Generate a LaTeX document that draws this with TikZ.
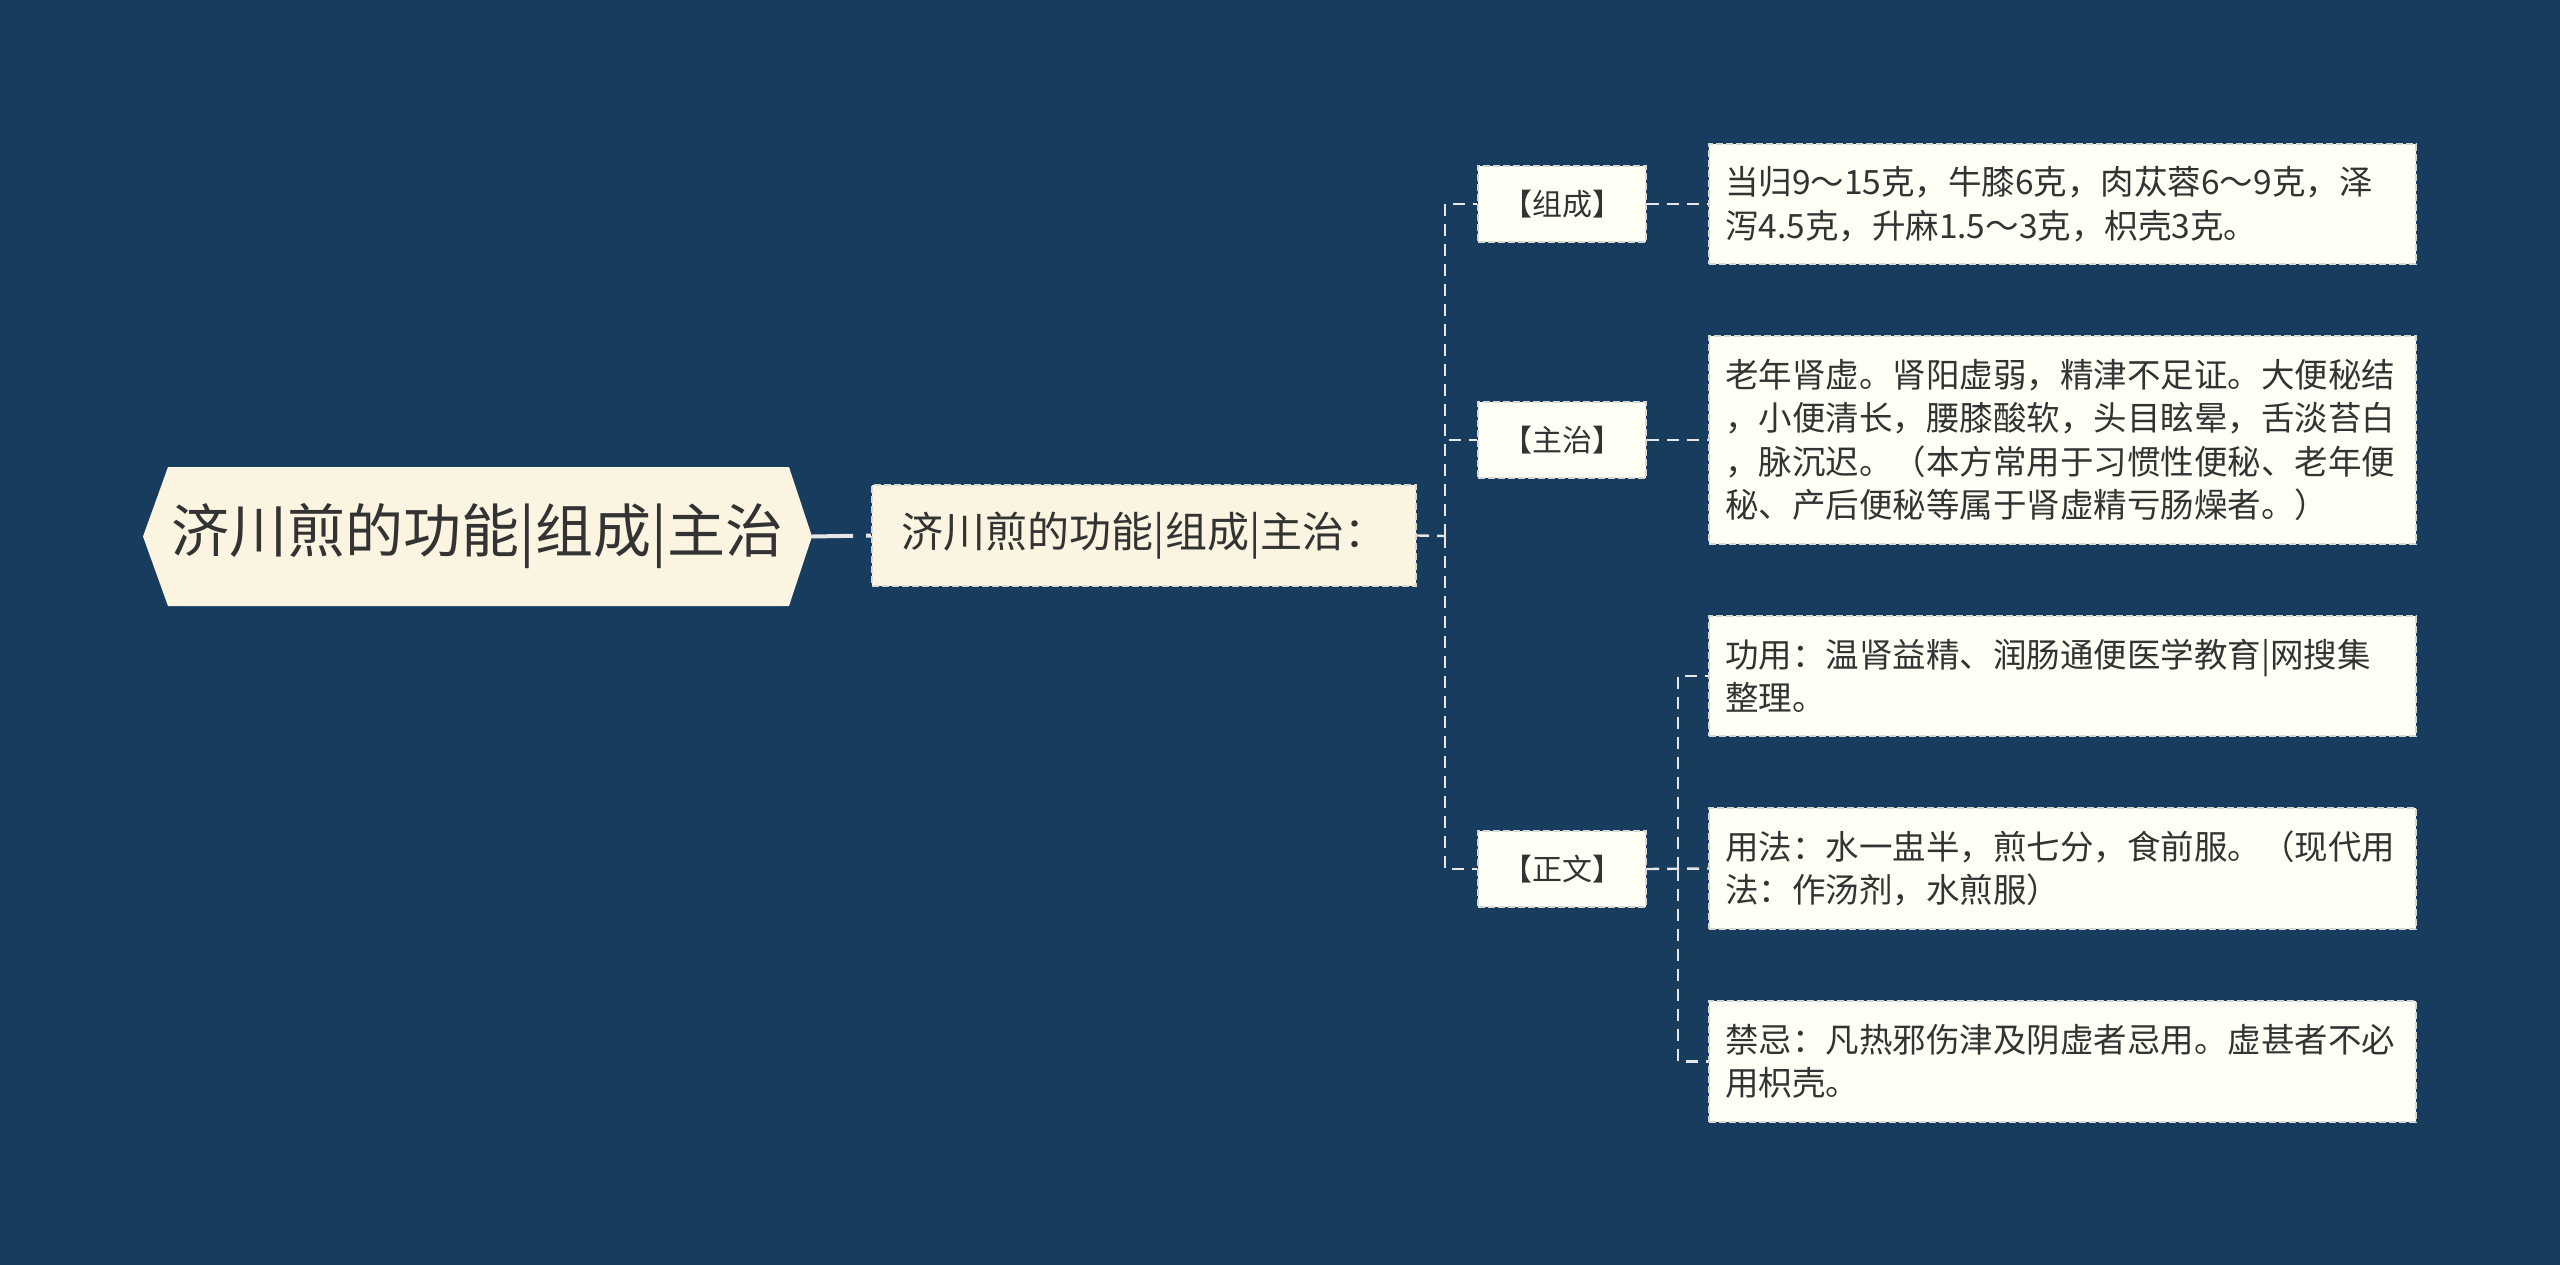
\documentclass[tikz,border=0pt]{standalone}
\usepackage{fontspec}
\setmainfont{Noto Sans CJK SC}
\definecolor{bg}{HTML}{173C5D}
\definecolor{cream}{HTML}{FAF4E0}
\definecolor{leaffill}{HTML}{FFFFF6}
\definecolor{txt}{HTML}{333333}
\definecolor{linec}{HTML}{E6E6E6}
\definecolor{boxline}{HTML}{D8D8D2}
\begin{document}
\begin{tikzpicture}[x=1pt,y=-1pt,
  conn/.style={draw=linec,line width=2.4pt,dash pattern=on 12pt off 8pt},
  boxbase/.style={draw=boxline,line width=2pt,dash pattern=on 7pt off 3pt,text=txt,inner sep=0pt},
  labelbox/.style={boxbase,fill=leaffill,minimum width=168pt,minimum height=76pt,font=\fontsize{30}{36}\selectfont},
  leafbox/.style={boxbase,fill=leaffill,anchor=west,minimum width=707pt,text width=675pt,inner xsep=16pt,align=left,font=\fontsize{33.5}{43.5}\selectfont}
]
\fill[bg] (0,0) rectangle (2560,1265);
\useasboundingbox (0,0) rectangle (2560,1265);

% root hexagon
\fill[cream] (143,536.5) -- (168,467) -- (789,467) -- (812,536.5) -- (789,606) -- (168,606) -- cycle;
\node[text=txt,font=\fontsize{58}{64}\selectfont,minimum width=669pt,minimum height=139pt,inner sep=0pt] (root) at (477.5,536.5) {济川煎的功能|组成|主治};

% sub node
\node[boxbase,fill=cream,minimum width=544pt,minimum height=101pt,font=\fontsize{42}{48}\selectfont] (sub) at (1144,535.5) {济川煎的功能|组成|主治：};

% labels
\node[labelbox] (zc) at (1562,204) {【组成】};
\node[labelbox] (zz) at (1562,440) {【主治】};
\node[labelbox] (zw) at (1562,869) {【正文】};

% leaves
\node[leafbox,minimum height=120pt] (l1) at (1708,204) {当归9～15克，牛膝6克，肉苁蓉6～9克，泽\\泻4.5克，升麻1.5～3克，枳壳3克。};
\node[leafbox,minimum height=208pt] (l2) at (1708,440) {老年肾虚。肾阳虚弱，精津不足证。大便秘结\\，小便清长，腰膝酸软，头目眩晕，舌淡苔白\\，脉沉迟。（本方常用于习惯性便秘、老年便\\秘、产后便秘等属于肾虚精亏肠燥者。）};
\node[leafbox,minimum height=120pt] (l3) at (1708,676) {功用：温肾益精、润肠通便医学教育|网搜集\\整理。};
\node[leafbox,minimum height=121pt] (l4) at (1708,868.5) {用法：水一盅半，煎七分，食前服。（现代用\\法：作汤剂，水煎服）};
\node[leafbox,minimum height=121pt] (l5) at (1708,1061.5) {禁忌：凡热邪伤津及阴虚者忌用。虚甚者不必\\用枳壳。};

% junctions
\coordinate (j1) at (1445,536);
\coordinate (j2) at (1678,869);

% connectors
\draw[draw=linec,line width=4pt,dash pattern=on 41pt off 13pt] (root.east) -- (sub.west);
\draw[conn] (sub.east) -- (j1);
\draw[conn] (j1) |- (zc.west);
\draw[conn] (j1) |- (zz.west);
\draw[conn] (j1) |- (zw.west);
\draw[conn] (zc.east) -- (l1.west);
\draw[conn] (zz.east) -- (l2.west);
\draw[conn] (zw.east) -- (l4.west);
\draw[conn] (j2) |- (l3.west);
\draw[conn] (j2) |- (l5.west);
\end{tikzpicture}
\end{document}
